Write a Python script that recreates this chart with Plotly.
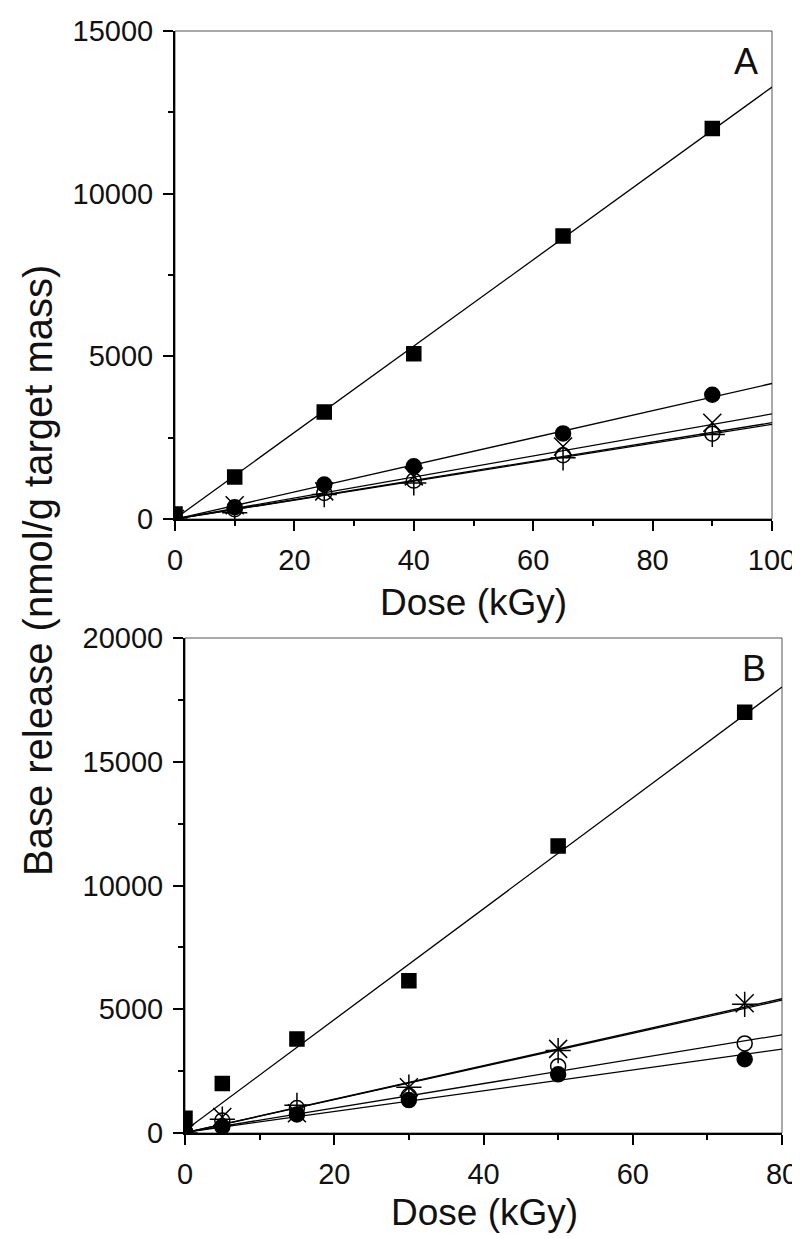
import plotly.graph_objects as go

# ---- panel A data (dose in kGy, base release in nmol/g target mass) ----
dose_a = [0, 10, 25, 40, 65, 90]
square_a = [150, 1290, 3290, 5080, 8700, 12000]
fcircle_a = [50, 360, 1060, 1620, 2630, 3820]
cross_a = [0, 420, 850, 1310, 2230, 2960]
ocircle_a = [0, 300, 800, 1180, 1960, 2620]
plus_a = [0, 190, 750, 1110, 1880, 2600]
slope_a = [132.7, 41.7, 32.3, 29.6, 29.1]
icpt_a = [6, -5, 0, 0, 0]

# ---- panel B data ----
dose_b = [0, 5, 15, 30, 50, 75]
square_b = [600, 2000, 3800, 6150, 11600, 17000]
fcircle_b = [50, 260, 750, 1330, 2370, 2980]
cross_b = [0, 650, 800, 1850, 3400, 5240]
ocircle_b = [50, 500, 1010, 1500, 2700, 3620]
plus_b = [0, 560, 1120, 1850, 3330, 5200]
slope_b = [224.0, 42.0, 67.7, 49.3, 67.0]
icpt_b = [100, 28, 10, 25, 10]

symbols = ["square", "circle", "x-thin", "circle-open", "cross-thin"]
sizes = [14, 15, 18, 15, 18]

FONT = "Liberation Sans, Arial, sans-serif"

fig = go.Figure()


def add_panel(fig, xa, ya, dose, series, slopes, icpts, xmax):
    for vals, sym, sz, m, b in zip(series, symbols, sizes, slopes, icpts):
        fig.add_trace(go.Scatter(
            x=[0, xmax], y=[b, b + m * xmax], mode="lines",
            line=dict(color="black", width=1.3),
            xaxis=xa, yaxis=ya, showlegend=False, hoverinfo="skip"))
        fig.add_trace(go.Scatter(
            x=dose, y=vals, mode="markers",
            marker=dict(symbol=sym, size=sz, color="black",
                        line=dict(color="black", width=1.5)),
            xaxis=xa, yaxis=ya, showlegend=False))


add_panel(fig, "x", "y", dose_a,
          [square_a, fcircle_a, cross_a, ocircle_a, plus_a],
          slope_a, icpt_a, 100)
add_panel(fig, "x2", "y2", dose_b,
          [square_b, fcircle_b, cross_b, ocircle_b, plus_b],
          slope_b, icpt_b, 80)

W, H = 800, 1238
axis_common = dict(
    showgrid=False, zeroline=False, showline=True, linecolor="black",
    linewidth=2, ticks="outside", ticklen=10, tickwidth=1.5, tickcolor="black",
    ticklabelstandoff=4, tickformat="d",
    tickfont=dict(family=FONT, size=29, color="#111"), automargin=False,
)
minor_x = dict(dtick=10, ticks="outside", ticklen=5, tickwidth=1.5, tickcolor="black")
minor_y = dict(dtick=2500, ticks="outside", ticklen=5, tickwidth=1.5, tickcolor="black")

fig.update_layout(
    width=W, height=H,
    margin=dict(l=0, r=0, t=0, b=0),
    paper_bgcolor="white", plot_bgcolor="white",
    font=dict(family=FONT, color="#111"),
    xaxis=dict(axis_common, domain=[167 / W, 764 / W], range=[0, 100],
               tickvals=[0, 20, 40, 60, 80, 100], minor=minor_x),
    yaxis=dict(axis_common, domain=[1 - 511 / H, 1 - 23 / H], range=[0, 15000],
               tickvals=[0, 5000, 10000, 15000], minor=minor_y),
    xaxis2=dict(axis_common, domain=[177 / W, 774 / W], range=[0, 80],
                tickvals=[0, 20, 40, 60, 80], anchor="y2", minor=minor_x),
    yaxis2=dict(axis_common, domain=[1 - 1125 / H, 1 - 630 / H], range=[0, 20000],
                tickvals=[0, 5000, 10000, 15000, 20000], anchor="x2", minor=minor_y),
)

# thin frame on top / right
for xr, yr in [("x domain", "y domain"), ("x2 domain", "y2 domain")]:
    fig.add_shape(type="rect", xref=xr, yref=yr, x0=0, x1=1, y0=0, y1=1,
                  line=dict(color="#555", width=1), layer="below")

ann = [
    dict(text="Dose (kGy)", x=465 / W, y=1 - 594 / H, size=37),
    dict(text="Dose (kGy)", x=476 / W, y=1 - 1204 / H, size=37),
    dict(text="A", x=738 / W, y=1 - 53 / H, size=36),
    dict(text="B", x=746 / W, y=1 - 660 / H, size=36),
]
for a in ann:
    fig.add_annotation(text=a["text"], x=a["x"], y=a["y"], xref="paper", yref="paper",
                       showarrow=False, xanchor="center", yanchor="middle",
                       font=dict(family=FONT, size=a["size"], color="#111"))

fig.add_annotation(text="Base release (nmol/g target mass)", x=30 / W, y=1 - 563 / H,
                   xref="paper", yref="paper", showarrow=False, textangle=-90,
                   xanchor="center", yanchor="middle",
                   font=dict(family=FONT, size=40, color="#111"))

fig.write_html("out.html")
